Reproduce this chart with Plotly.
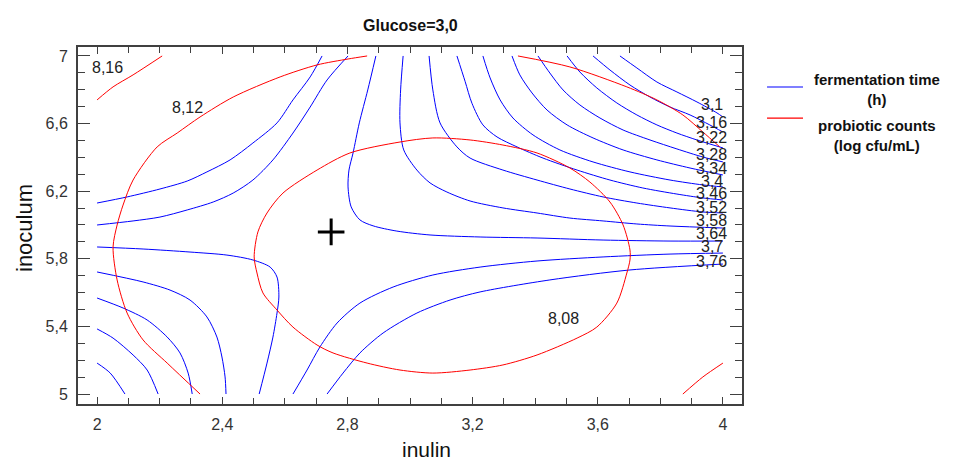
import plotly.graph_objects as go

# ---------------- data ----------------
# fermentation time (h) contour lines, labelled at the right edge
ft_310_x = [3.671, 3.725, 3.789, 3.853, 3.917, 3.981, 4.0]
ft_310_y = [7.0, 6.929, 6.846, 6.787, 6.728, 6.663, 6.639]
ft_316_x = [3.585, 3.639, 3.703, 3.767, 3.831, 3.895, 3.958, 4.0]
ft_316_y = [7.0, 6.917, 6.828, 6.757, 6.698, 6.651, 6.592, 6.550]
ft_322_x = [3.502, 3.543, 3.597, 3.661, 3.725, 3.789, 3.853, 3.917, 4.0]
ft_322_y = [7.0, 6.905, 6.811, 6.722, 6.651, 6.592, 6.544, 6.503, 6.456]
ft_328_x = [3.409, 3.447, 3.489, 3.543, 3.607, 3.681, 3.767, 3.853, 3.936, 4.0]
ft_328_y = [7.0, 6.899, 6.799, 6.710, 6.633, 6.562, 6.503, 6.450, 6.402, 6.373]
ft_334_x = [3.326, 3.351, 3.390, 3.438, 3.502, 3.585, 3.681, 3.789, 3.895, 4.0]
ft_334_y = [7.0, 6.888, 6.781, 6.680, 6.592, 6.515, 6.444, 6.385, 6.337, 6.296]
ft_340_x = [3.233, 3.256, 3.288, 3.329, 3.393, 3.479, 3.585, 3.703, 3.831, 3.936, 4.0]
ft_340_y = [7.0, 6.870, 6.740, 6.633, 6.533, 6.444, 6.373, 6.314, 6.266, 6.237, 6.225]
ft_346_x = [3.150, 3.176, 3.198, 3.233, 3.278, 3.342, 3.425, 3.534, 3.639, 3.744, 3.853, 3.936, 4.0]
ft_346_y = [7.0, 6.850, 6.720, 6.592, 6.521, 6.462, 6.396, 6.325, 6.266, 6.219, 6.183, 6.160, 6.148]
ft_352_x = [3.061, 3.073, 3.096, 3.150, 3.192, 3.297, 3.406, 3.511, 3.617, 3.725, 3.831, 3.936, 4.0]
ft_352_y = [7.0, 6.799, 6.604, 6.462, 6.396, 6.325, 6.266, 6.213, 6.166, 6.130, 6.101, 6.077, 6.071]
ft_358_x = [2.978, 2.970, 2.968, 2.980, 3.022, 3.064, 3.118, 3.192, 3.297, 3.406, 3.511, 3.617, 3.725, 3.831, 4.0]
ft_358_y = [7.0, 6.799, 6.604, 6.444, 6.325, 6.249, 6.195, 6.142, 6.101, 6.071, 6.041, 6.024, 6.006, 5.994, 5.982]
ft_364_x = [2.891, 2.865, 2.838, 2.818, 2.805, 2.802, 2.812, 2.840, 2.882, 2.958, 3.064, 3.224, 3.406, 3.617, 3.831, 4.0]
ft_364_y = [7.0, 6.799, 6.604, 6.426, 6.325, 6.225, 6.107, 6.030, 5.995, 5.964, 5.941, 5.929, 5.923, 5.911, 5.905, 5.905]
ft_370_x = [2.626, 2.671, 2.712, 2.767, 2.840, 2.946, 3.073, 3.224, 3.406, 3.617, 3.831, 4.0]
ft_370_y = [5.0, 5.142, 5.278, 5.420, 5.538, 5.633, 5.704, 5.751, 5.787, 5.811, 5.828, 5.834]
ft_376_x = [2.735, 2.786, 2.840, 2.914, 3.022, 3.128, 3.224, 3.447, 3.703, 4.0]
ft_376_y = [5.0, 5.124, 5.243, 5.361, 5.479, 5.556, 5.604, 5.675, 5.734, 5.769]
# unlabelled fermentation time lines (left side)
ft_ul1_x = [2.0, 2.096, 2.201, 2.288, 2.351, 2.425, 2.498, 2.575, 2.626, 2.681, 2.719]
ft_ul1_y = [6.130, 6.166, 6.213, 6.260, 6.314, 6.385, 6.485, 6.604, 6.740, 6.876, 7.0]
ft_ul2_x = [2.0, 2.115, 2.201, 2.288, 2.371, 2.435, 2.498, 2.562, 2.626, 2.681, 2.735, 2.802]
ft_ul2_y = [6.0, 6.024, 6.047, 6.089, 6.136, 6.189, 6.266, 6.385, 6.544, 6.698, 6.858, 7.0]
ft_ll1_x = [2.0, 2.147, 2.297, 2.415, 2.498, 2.553, 2.575, 2.581, 2.575, 2.562, 2.543, 2.518]
ft_ll1_y = [5.870, 5.858, 5.840, 5.822, 5.793, 5.751, 5.692, 5.574, 5.479, 5.337, 5.183, 5.0]
ft_ll2_x = [2.0, 2.147, 2.233, 2.297, 2.351, 2.383, 2.399, 2.409, 2.412]
ft_ll2_y = [5.722, 5.663, 5.615, 5.556, 5.456, 5.337, 5.219, 5.101, 5.0]
ft_ll3_x = [2.0, 2.083, 2.160, 2.224, 2.265, 2.291, 2.304]
ft_ll3_y = [5.568, 5.509, 5.438, 5.337, 5.243, 5.124, 5.0]
ft_ll4_x = [2.0, 2.051, 2.115, 2.160, 2.195]
ft_ll4_y = [5.385, 5.331, 5.231, 5.142, 5.0]
ft_ll5_x = [2.0, 2.042, 2.089]
ft_ll5_y = [5.183, 5.124, 5.0]

ft_labels = ["3,1", "3,16", "3,22", "3,28", "3,34", "3,4", "3,46", "3,52", "3,58", "3,64", "3,7", "3,76"]
ft_label_x = [3.965] * 12
ft_label_y = [6.710, 6.609, 6.515, 6.420, 6.337, 6.260, 6.189, 6.101, 6.024, 5.947, 5.870, 5.787]

# probiotic counts (log cfu/mL) contour lines
pc_816_x = [2.0, 2.051, 2.115, 2.208]
pc_816_y = [6.740, 6.817, 6.888, 7.0]
pc_812a_x = [2.329, 2.224, 2.147, 2.096, 2.064, 2.051, 2.064, 2.083, 2.115, 2.192, 2.256, 2.329, 2.435, 2.585, 2.703, 2.802, 2.863]
pc_812a_y = [5.0, 5.183, 5.320, 5.479, 5.675, 5.870, 6.0, 6.118, 6.266, 6.462, 6.544, 6.639, 6.757, 6.876, 6.947, 6.982, 7.0]
pc_812b_x = [3.345, 3.511, 3.693, 3.789, 3.872, 3.936, 3.990]
pc_812b_y = [7.0, 6.935, 6.817, 6.740, 6.651, 6.550, 6.462]
pc_808_x = [2.502, 2.514, 2.543, 2.594, 2.703, 2.808, 2.968, 3.073, 3.192, 3.297, 3.406, 3.511, 3.575,
            3.639, 3.681, 3.703, 3.703, 3.693, 3.661, 3.597, 3.534, 3.406, 3.297, 3.192, 3.073, 2.968,
            2.863, 2.754, 2.703, 2.626, 2.575, 2.530, 2.511, 2.502]
pc_808_y = [5.811, 5.959, 6.071, 6.189, 6.325, 6.426, 6.491, 6.515, 6.503, 6.473, 6.426, 6.337, 6.254,
            6.136, 6.0, 5.852, 5.793, 5.716, 5.538, 5.396, 5.331, 5.231, 5.172, 5.142, 5.124, 5.142,
            5.183, 5.243, 5.290, 5.396, 5.497, 5.598, 5.716, 5.811]
pc_804_x = [3.872, 3.936, 4.0]
pc_804_y = [5.0, 5.101, 5.183]

pc_labels = ["8,16", "8,12", "8,08"]
pc_label_x = [2.032, 2.288, 3.489]
pc_label_y = [6.929, 6.698, 5.444]

optimum_x = [2.748]
optimum_y = [5.959]

# ---------------- figure ----------------
BLUE = "#0000ff"
RED = "#ff0000"
fig = go.Figure()

blue_lines = [
    (ft_310_x, ft_310_y), (ft_316_x, ft_316_y), (ft_322_x, ft_322_y), (ft_328_x, ft_328_y),
    (ft_334_x, ft_334_y), (ft_340_x, ft_340_y), (ft_346_x, ft_346_y), (ft_352_x, ft_352_y),
    (ft_358_x, ft_358_y), (ft_364_x, ft_364_y), (ft_370_x, ft_370_y), (ft_376_x, ft_376_y),
    (ft_ul1_x, ft_ul1_y), (ft_ul2_x, ft_ul2_y), (ft_ll1_x, ft_ll1_y), (ft_ll2_x, ft_ll2_y),
    (ft_ll3_x, ft_ll3_y), (ft_ll4_x, ft_ll4_y), (ft_ll5_x, ft_ll5_y),
]
red_lines = [
    (pc_816_x, pc_816_y), (pc_812a_x, pc_812a_y), (pc_812b_x, pc_812b_y),
    (pc_808_x, pc_808_y), (pc_804_x, pc_804_y),
]
for xs, ys in blue_lines:
    fig.add_trace(go.Scatter(x=xs, y=ys, mode="lines", hoverinfo="skip",
                             line=dict(color=BLUE, width=1, shape="spline", smoothing=0.8)))
for xs, ys in red_lines:
    fig.add_trace(go.Scatter(x=xs, y=ys, mode="lines", hoverinfo="skip",
                             line=dict(color=RED, width=1, shape="spline", smoothing=0.8)))

fig.add_trace(go.Scatter(x=optimum_x, y=optimum_y, mode="markers", hoverinfo="skip",
                         marker=dict(symbol="cross-thin", size=19, color="black",
                                     line=dict(color="black", width=3))))

FONT = "Arial, Liberation Sans, sans-serif"
annotations = []
for t, x, y in zip(ft_labels, ft_label_x, ft_label_y):
    annotations.append(dict(x=x, y=y, xref="x", yref="y", text=t, showarrow=False,
                            xanchor="center", yanchor="middle",
                            font=dict(family=FONT, size=16, color="#222")))
for t, x, y in zip(pc_labels, pc_label_x, pc_label_y):
    annotations.append(dict(x=x, y=y, xref="x", yref="y", text=t, showarrow=False,
                            xanchor="center", yanchor="middle",
                            font=dict(family=FONT, size=16, color="#222")))

# title, axis titles, legend texts
annotations += [
    dict(x=0.5, y=1.0616, xref="paper", yref="paper", text="<b>Glucose=3,0</b>", showarrow=False,
         xanchor="center", yanchor="middle", font=dict(family=FONT, size=16, color="#111")),
    dict(x=0.5256, y=-0.1275, xref="paper", yref="paper", text="inulin", showarrow=False,
         xanchor="center", yanchor="middle", font=dict(family=FONT, size=21, color="#111")),
    dict(x=-0.0798, y=0.493, xref="paper", yref="paper", text="inoculum", showarrow=False,
         xanchor="center", yanchor="middle", textangle=-90,
         font=dict(family=FONT, size=22, color="#111")),
    dict(x=1.2033, y=0.8796, xref="paper", yref="paper", text="<b>fermentation time</b><br><b>(h)</b>",
         showarrow=False, align="center", xanchor="center", yanchor="middle",
         font=dict(family=FONT, size=15, color="#111")),
    dict(x=1.2033, y=0.752, xref="paper", yref="paper",
         text="<b>probiotic counts</b><br><b>(log cfu/mL)</b>",
         showarrow=False, align="center", xanchor="center", yanchor="middle",
         font=dict(family=FONT, size=15, color="#111")),
]

shapes = [
    dict(type="line", xref="paper", yref="paper", x0=1.0377, x1=1.0919, y0=0.888, y1=0.888,
         line=dict(color=BLUE, width=1.2)),
    dict(type="line", xref="paper", yref="paper", x0=1.0377, x1=1.0919, y0=0.801, y1=0.801,
         line=dict(color=RED, width=1.2)),
]

axis_common = dict(
    showgrid=False, zeroline=False, showline=True, linecolor="#404040", linewidth=2,
    mirror="allticks", ticks="inside", tickcolor="#404040", tickwidth=1,
    tickfont=dict(family=FONT, size=16, color="#333"), ticklabelstandoff=5,
)
fig.update_xaxes(range=[1.939, 4.061], tick0=2, dtick=0.4, ticklen=7,
                 minor=dict(dtick=0.1, tick0=2, ticks="inside", ticklen=6, tickcolor="#404040",
                            showgrid=False),
                 **axis_common)
fig.update_yaxes(range=[4.941, 7.053], tick0=5, dtick=0.4, ticklen=12,
                 minor=dict(dtick=0.1, tick0=5, ticks="inside", ticklen=7, tickcolor="#404040",
                            showgrid=False),
                 **axis_common)

fig.update_layout(
    width=955, height=463, margin=dict(l=78, r=213, t=47, b=59),
    paper_bgcolor="white", plot_bgcolor="white", separators=", ",
    showlegend=False, annotations=annotations, shapes=shapes,
    font=dict(family=FONT, color="#222"),
)

fig.write_html("out.html", config={"displayModeBar": False},
               post_script="document.body.style.margin='0';")
